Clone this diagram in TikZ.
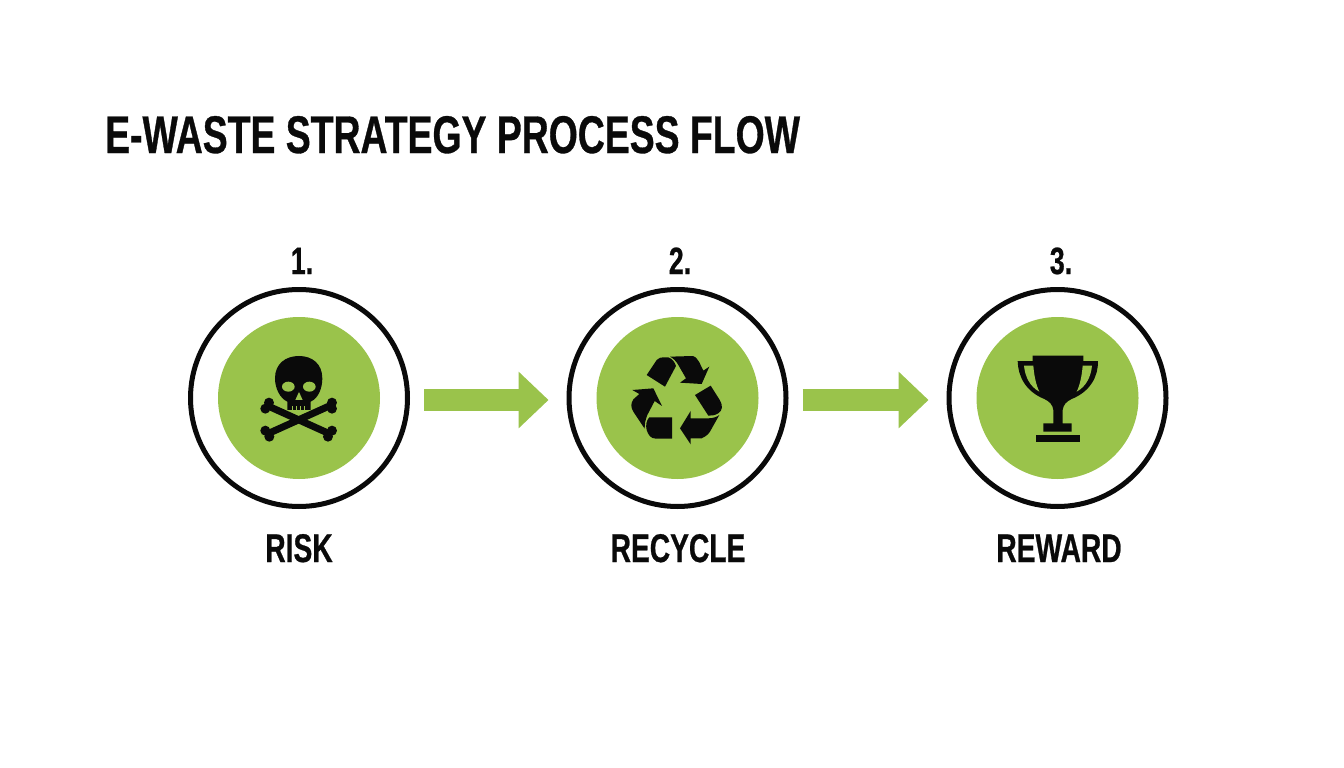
\documentclass[tikz,border=0pt]{standalone}
\usepackage{fontspec}
\usetikzlibrary{arrows.meta}
\newfontfamily\headfont[FakeStretch=0.705,FakeBold=0.6]{Liberation Sans Bold}
\definecolor{leaf}{HTML}{9AC34B}
\definecolor{ink}{HTML}{0A0A0A}
\tikzset{
  ring/.style={circle,draw=ink,line width=5pt,fill=white,minimum size=217pt,inner sep=0pt},
  disc/.style={circle,fill=leaf,minimum size=162pt,inner sep=0pt},
  steplabel/.style={font=\headfont\fontsize{40}{48}\selectfont,text=ink,anchor=base,inner sep=0pt},
  numlabel/.style={font=\headfont\fontsize{38}{44}\selectfont,text=ink,anchor=base,inner sep=0pt},
  titlelabel/.style={font=\headfont\fontsize{53}{60}\selectfont,text=ink,anchor=base west,inner sep=0pt},
  flowarrow/.style={draw=leaf,line width=22pt,-{Triangle[length=30pt,width=55pt,fill=leaf]},shorten <=14pt,shorten >=18pt},
  bone/.style={draw=ink,line width=7pt},
  icon/.style={fill=ink,draw=none},
  hole/.style={fill=leaf,draw=none}
}
\begin{document}
\begin{tikzpicture}[x=1pt,y=-1pt]
\useasboundingbox (0,0) rectangle (1344,768);
\fill[white] (0,0) rectangle (1344,768);
\node[titlelabel] (title) at (105,153) {E-WASTE STRATEGY PROCESS FLOW};
\node[numlabel] (n1) at (302,274) {1.};
\node[numlabel] (n2) at (680,274) {2.};
\node[numlabel] (n3) at (1061,274) {3.};
\node[ring] (ring1) at (299,398) {};
\node[ring] (ring2) at (677.5,398) {};
\node[ring] (ring3) at (1057.5,398) {};
\node[disc] (disc1) at (299,398) {};
\node[disc] (disc2) at (677.5,398) {};
\node[disc] (disc3) at (1057.5,398) {};
\node[steplabel] (l1) at (299,562) {RISK};
\node[steplabel] (l2) at (678,562) {RECYCLE};
\node[steplabel] (l3) at (1059,562) {REWARD};
\draw[flowarrow] ([yshift=-2pt]ring1.east) -- ([yshift=-2pt]ring2.west);
\draw[flowarrow] ([yshift=-2pt]ring2.east) -- ([yshift=-2pt]ring3.west);
% skull and crossbones
\begin{scope}[shift={(180,280)},scale=0.3333]
  \draw[bone] (262,377) -- (450,462);
  \draw[bone] (450,377) -- (262,462);
  \foreach \x/\y in {267/368,256/386,456/368,456/386,256/452,268/470,456/452,444/470}
    \fill[ink] (\x,\y) circle (15);
  \fill[icon] (322,365) -- (322,390) -- (392,390) -- (392,365)
    .. controls (415,355) and (427,325) .. (427,295)
    .. controls (427,250) and (395,228) .. (357,228)
    .. controls (318,228) and (285,250) .. (285,295)
    .. controls (285,325) and (300,355) .. (322,365) -- cycle;
  \fill[hole] (325,320) ellipse [x radius=19,y radius=15];
  \fill[hole] (388,320) ellipse [x radius=19,y radius=15];
  \fill[hole] (357,336) -- (346,360) -- (368,360) -- cycle;
  \foreach \x in {337,349,361,373}
    \fill[hole] (\x,378) rectangle ++(2.5,12);
\end{scope}
% recycle
\begin{scope}[shift={(600,330)},scale=0.3333]
  \fill[icon] (140,135) -- (170,90) .. controls (176,83) and (184,82) .. (190,82) -- (205,82)
    .. controls (215,85) and (224,95) .. (228,108) -- (195,170) -- cycle;
  \fill[icon] (210,80) -- (278,78) .. controls (288,80) and (294,90) .. (298,97) -- (310,122) -- (328,110)
    -- (305,162) -- (240,158) -- (258,145) -- (235,105) .. controls (228,93) and (220,85) .. (210,80) -- cycle;
  \fill[icon] (285,195) -- (332,167) -- (358,208) .. controls (370,228) and (368,240) .. (355,250)
    .. controls (345,256) and (335,257) .. (325,257) -- cycle;
  \fill[icon] (240,295) -- (272,243) -- (272,265) -- (325,265) .. controls (340,265) and (352,260) .. (358,255)
    -- (335,296) .. controls (328,310) and (322,317) .. (305,325) -- (272,325) -- (272,343) -- cycle;
  \fill[icon] (148,262) -- (216,262) -- (216,326) -- (168,326) .. controls (152,326) and (145,315) .. (140,300)
    .. controls (136,285) and (140,270) .. (148,262) -- cycle;
  \fill[icon] (97,180) -- (160,175) -- (186,228) -- (164,213) -- (142,255) .. controls (136,270) and (134,282) .. (134,296)
    -- (100,245) .. controls (92,232) and (92,220) .. (100,208) -- (118,192) -- cycle;
\end{scope}
% trophy
\begin{scope}[shift={(990,335)},scale=0.3333]
  \fill[icon] (128,62) -- (280,62) -- (280,78) -- (324,78) .. controls (325,125) and (300,170) .. (245,192)
    .. controls (228,200) and (220,210) .. (218,225) -- (218,265) -- (245,265) -- (245,290) -- (160,290) -- (160,265)
    -- (190,265) -- (190,225) .. controls (188,210) and (180,200) .. (163,192)
    .. controls (108,170) and (84,125) .. (83,78) -- (128,78) -- cycle;
  \fill[hole] (102,92) -- (130,92) .. controls (132,120) and (138,150) .. (148,170)
    .. controls (120,155) and (105,125) .. (102,92) -- cycle;
  \fill[hole] (306,92) -- (278,92) .. controls (276,120) and (270,150) .. (260,170)
    .. controls (288,155) and (303,125) .. (306,92) -- cycle;
  \fill[icon] (138,300) rectangle (270,320);
\end{scope}
\end{tikzpicture}
\end{document}
